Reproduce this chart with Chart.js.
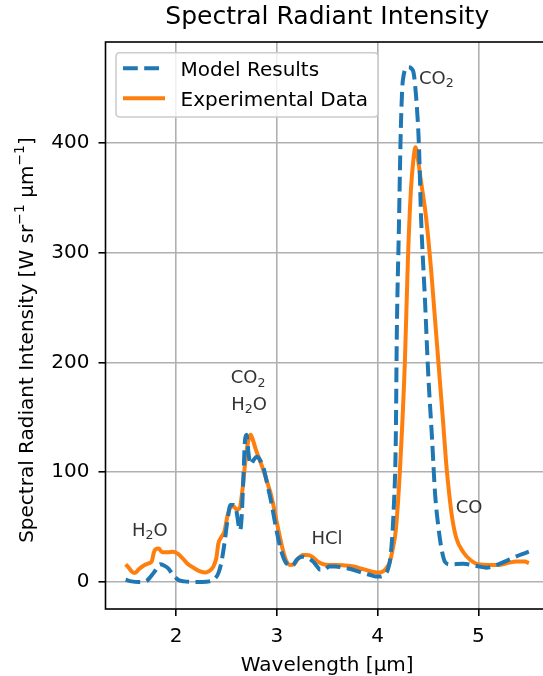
<!DOCTYPE html>
<html><head><meta charset="utf-8">
<script src="https://cdn.jsdelivr.net/npm/chart.js@4.4.1/dist/chart.umd.min.js"></script>
<style>
html,body{margin:0;padding:0;background:#fff;overflow:hidden;}
#wrap{position:relative;width:560px;height:690px;}
canvas{display:block;}
</style></head><body>
<div id="wrap"><canvas id="c" width="560" height="690"></canvas></div>
<script>
// ---- data ----
const modelWavelength = [1.50,1.56,1.63,1.70,1.75,1.80,1.84,1.88,1.92,1.97,2.02,2.08,2.16,2.26,2.33,2.38,2.42,2.45,2.48,2.51,2.54,2.57,2.60,2.62,2.635,2.65,2.67,2.685,2.70,2.72,2.74,2.77,2.80,2.84,2.87,2.91,2.95,2.99,3.03,3.07,3.11,3.15,3.20,3.25,3.30,3.36,3.40,3.43,3.47,3.52,3.58,3.66,3.72,3.79,3.86,3.92,3.98,4.03,4.07,4.10,4.13,4.16,4.18,4.19,4.21,4.23,4.25,4.30,4.35,4.38,4.41,4.43,4.47,4.50,4.54,4.57,4.60,4.63,4.67,4.72,4.85,4.98,5.08,5.18,5.31,5.41,5.50];
const modelIntensity = [2,0.5,0,0.5,5,11,16,15,12.5,6.5,2,0.5,0,0,0.5,2.5,8,18,35,56,70,70,64,52,47,58,100,130,134,116,107,111,114,110,103,87,70,50,33,21,15.5,14.5,20.5,23,22,18.5,14,11,11,14,14,13,12,10,8,6.5,5,5,7,11,25,68,130,225,319,413,457,469,466,444,397,334,256,193,130,80,52,32,18,16,16.5,14.5,13,15.5,20.5,24.5,27.5];

const expWavelength = [1.50,1.53,1.56,1.59,1.63,1.68,1.73,1.76,1.78,1.80,1.83,1.86,1.92,1.97,2.02,2.07,2.12,2.18,2.24,2.29,2.33,2.37,2.40,2.42,2.45,2.48,2.51,2.54,2.57,2.60,2.63,2.66,2.69,2.72,2.74,2.76,2.79,2.83,2.87,2.90,2.94,2.97,3.00,3.03,3.06,3.09,3.13,3.17,3.21,3.26,3.30,3.35,3.40,3.45,3.52,3.59,3.67,3.76,3.84,3.90,3.96,4.02,4.06,4.09,4.12,4.15,4.18,4.22,4.27,4.30,4.33,4.355,4.375,4.40,4.43,4.47,4.50,4.53,4.56,4.59,4.62,4.65,4.68,4.71,4.74,4.78,4.85,4.92,5.00,5.10,5.20,5.28,5.38,5.46,5.50];
const expIntensity = [16,13,9.5,8,11.5,15,17,19,27,30,30.5,27,27,27.5,25.5,21,16,12.5,9.5,8.5,10,14,22,35,41,46,60,68,69,66,67,85,112,130,134,130,121,111,101,92,80,68,54,41,29,20,15.5,16,21,24.5,24.5,23,19,16.5,15.5,15.5,15,14,12,10.5,9,8.5,10,13,18,30,47,100,200,293,357,385,396,385,365,340,315,285,250,215,180,145,108,80,58,40,27,20,16,15.5,15.5,17,18.5,18.5,17];

const seriesLabels = ['Model Results', 'Experimental Data'];
const xTicks = [2, 3, 4, 5];
const yTicks = [0, 100, 200, 300, 400];
const chartTitle = 'Spectral Radiant Intensity';
const xTitle = 'Wavelength [μm]';
const yTitle = 'Spectral Radiant Intensity [W sr⁻¹ μm⁻¹]';
const annotationTexts = ['H₂O', 'CO₂', 'H₂O', 'HCl', 'CO₂', 'CO'];
const annotationX = [1.74, 2.714, 2.724, 3.498, 4.583, 4.907];
const annotationY = [42, 181, 157, 34.4, 454, 62.6];

// ---- helpers ----
const FONT = "'DejaVu Sans', sans-serif";
const SUB = {'₀':'0','₁':'1','₂':'2','₃':'3','₄':'4'};
const SUP = {'⁻':'−','¹':'1','²':'2','³':'3'};
function parseRich(s){
  const segs=[]; let cur=null;
  for(const ch of s){
    let mode='n', c=ch;
    if(SUB[ch]!==undefined){mode='sub';c=SUB[ch];}
    else if(SUP[ch]!==undefined){mode='sup';c=SUP[ch];}
    if(cur && cur.mode===mode) cur.t+=c; else {cur={t:c,mode}; segs.push(cur);}
  }
  return segs;
}
function drawRich(ctx, text, x, y, size, align){
  const segs=parseRich(text);
  let w=0;
  segs.forEach(s=>{ctx.font=(s.mode==='n'?size:size*0.7)+'px '+FONT; s.w=ctx.measureText(s.t).width; w+=s.w;});
  let cx = align==='center' ? x-w/2 : (align==='right'? x-w : x);
  ctx.textBaseline='alphabetic'; ctx.textAlign='left';
  segs.forEach(s=>{
    const fs = s.mode==='n'?size:size*0.7;
    ctx.font=fs+'px '+FONT;
    const dy = s.mode==='sub'? size*0.2 : (s.mode==='sup'? -size*0.42 : 0);
    ctx.fillText(s.t, cx, y+dy);
    cx+=s.w;
  });
}

const decor = {
  id:'decor',
  afterDatasetsDraw(chart){
    const {ctx, chartArea:a, scales:{x, y}} = chart;
    ctx.save();
    // spines
    ctx.strokeStyle='#000'; ctx.lineWidth=1.6;
    ctx.strokeRect(a.left, a.top, a.right-a.left, a.bottom-a.top);
    // annotations
    ctx.fillStyle='#333';
    annotationTexts.forEach((t,i)=>{
      drawRich(ctx, t, x.getPixelForValue(annotationX[i]), y.getPixelForValue(annotationY[i]), 18, 'center');
    });
    // legend
    const lx=a.left+10.5, ly=a.top+10.7, lw=262, lh=64.3, r=4;
    ctx.beginPath();
    ctx.moveTo(lx+r,ly); ctx.lineTo(lx+lw-r,ly); ctx.quadraticCurveTo(lx+lw,ly,lx+lw,ly+r);
    ctx.lineTo(lx+lw,ly+lh-r); ctx.quadraticCurveTo(lx+lw,ly+lh,lx+lw-r,ly+lh);
    ctx.lineTo(lx+r,ly+lh); ctx.quadraticCurveTo(lx,ly+lh,lx,ly+lh-r);
    ctx.lineTo(lx,ly+r); ctx.quadraticCurveTo(lx,ly,lx+r,ly); ctx.closePath();
    ctx.fillStyle='rgba(255,255,255,0.8)'; ctx.fill();
    ctx.strokeStyle='#cccccc'; ctx.lineWidth=1.6; ctx.stroke();
    chart.data.datasets.forEach((ds,i)=>{
      const rowY = ly + 15.6 + i*30;
      ctx.beginPath();
      ctx.setLineDash(ds.borderDash||[]);
      ctx.lineCap='butt';
      ctx.strokeStyle=ds.borderColor; ctx.lineWidth=ds.borderWidth;
      ctx.moveTo(a.left+17.5,rowY); ctx.lineTo(a.left+59.5,rowY); ctx.stroke();
      ctx.setLineDash([]);
      ctx.fillStyle='#000';
      ctx.font='20px '+FONT; ctx.textAlign='left'; ctx.textBaseline='alphabetic';
      ctx.fillText(ds.label, a.left+75, rowY+7.3);
    });
    // y-axis title
    ctx.translate(32.5, 340);
    ctx.rotate(-Math.PI/2);
    ctx.fillStyle='#000';
    drawRich(ctx, yTitle, 0, 0, 20, 'center');
    ctx.restore();
  }
};

new Chart(document.getElementById('c'), {
  type:'line',
  data:{
    datasets:[
      {label:seriesLabels[0], data:modelWavelength.map((w,i)=>({x:w,y:modelIntensity[i]})),
       borderColor:'#1f77b4', borderWidth:4, borderDash:[14.8,6.4], borderCapStyle:'butt', borderJoinStyle:'round',
       pointRadius:0, fill:false, cubicInterpolationMode:'monotone'},
      {label:seriesLabels[1], data:expWavelength.map((w,i)=>({x:w,y:expIntensity[i]})),
       borderColor:'#ff7f0e', borderWidth:4, borderCapStyle:'butt', borderJoinStyle:'round',
       pointRadius:0, fill:false, cubicInterpolationMode:'monotone'}
    ]
  },
  options:{
    responsive:false, animation:false, devicePixelRatio:1,
    events:[],
    layout:{padding:{left:0,right:11,top:0,bottom:0}},
    plugins:{
      legend:{display:false}, tooltip:{enabled:false},
      title:{display:true, text:chartTitle, fullSize:false, color:'#000',
        font:{family:FONT, size:25, weight:'normal', lineHeight:1.2}, padding:{top:2.5,bottom:9.5}}
    },
    scales:{
      x:{type:'linear', min:1.3, max:5.7,
        afterBuildTicks(s){ s.ticks = xTicks.map(v=>({value:v})); },
        afterFit(s){ s.height = 81; },
        ticks:{color:'#000', font:{family:FONT,size:20}, padding:8.5, includeBounds:false, maxRotation:0, autoSkip:false},
        grid:{color:'#b0b0b0', lineWidth:1.6, tickColor:'#000', tickLength:7, drawTicks:true},
        border:{display:false},
        title:{display:true, text:xTitle, color:'#000', font:{family:FONT,size:20,lineHeight:1.2}, padding:{top:0,bottom:12}}
      },
      y:{type:'linear', min:-24.7, max:492,
        afterBuildTicks(s){ s.ticks = yTicks.map(v=>({value:v})); },
        afterFit(s){ s.width = 105.5; },
        ticks:{color:'#000', font:{family:FONT,size:20}, padding:9, includeBounds:false, autoSkip:false},
        grid:{color:'#b0b0b0', lineWidth:1.6, tickColor:'#000', tickLength:7, drawTicks:true},
        border:{display:false}
      }
    }
  },
  plugins:[decor]
});
</script>
</body></html>
